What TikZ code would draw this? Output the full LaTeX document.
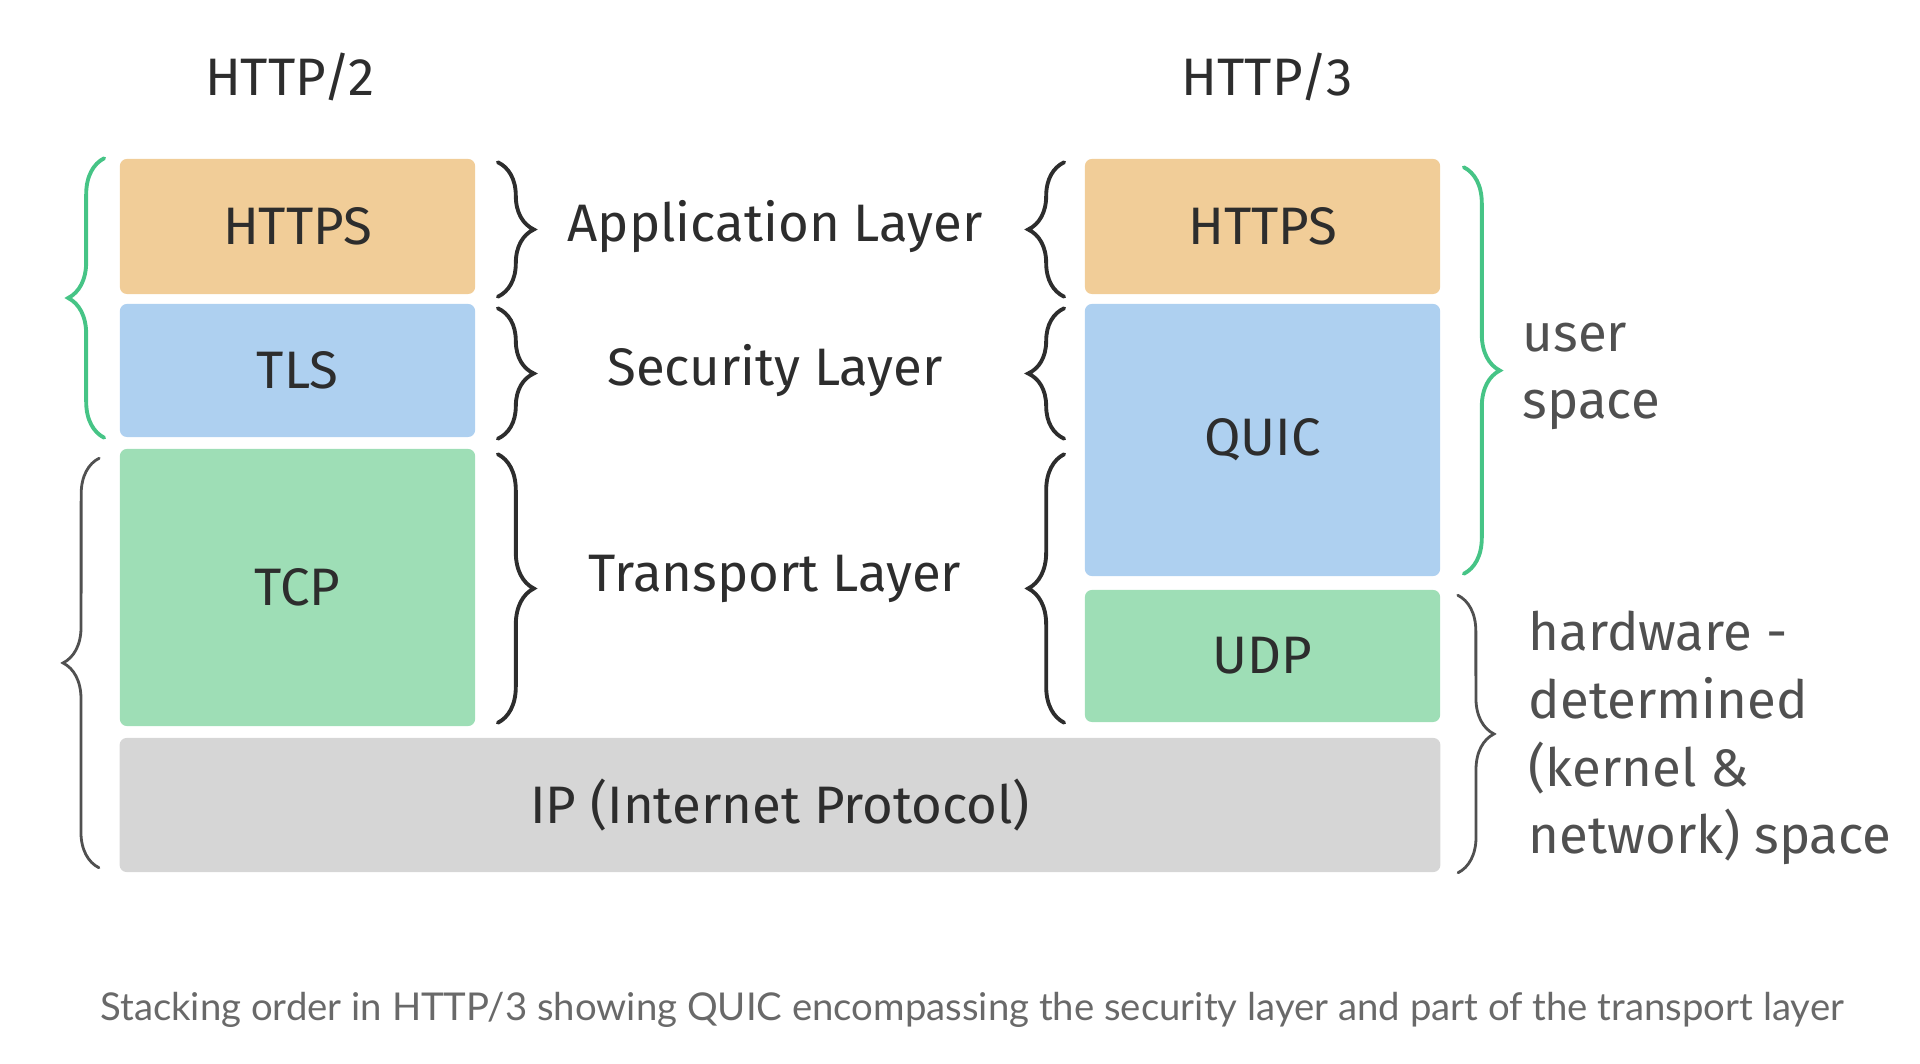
\documentclass[tikz,border=0pt]{standalone}
\usepackage{fontspec}
\setmainfont{Fira Sans}
\newfontfamily\capfont{Lato}
\usetikzlibrary{decorations.pathreplacing, calc}
\definecolor{httpsblock}{RGB}{241, 205, 152}
\definecolor{secblock}{RGB}{174, 208, 240}
\definecolor{tpblock}{RGB}{158, 222, 182}
\definecolor{ipblock}{RGB}{214, 214, 214}
\definecolor{userbrace}{RGB}{70, 196, 134}
\definecolor{inkdark}{RGB}{45, 45, 45}
\definecolor{inkgrey}{RGB}{80, 80, 80}
\definecolor{capgrey}{RGB}{105, 105, 105}

\begin{document}
\begin{tikzpicture}[x=0.01cm, y=-0.01cm,
		layer/.style={rounded corners=2pt, inner sep=0pt, minimum width=3.55cm,
			text=inkdark, font=\fontsize{15}{18}\selectfont},
		rbrace/.style={decorate, decoration={brace, amplitude=0.36cm},
			line width=1.1pt, line cap=round},
		lyr/.style={text=inkdark, font=\fontsize{15}{18}\selectfont}]
				\useasboundingbox (0,0) rectangle (1920,1064);

				% HTTP/2 stack
				\node[layer, fill=httpsblock, minimum height=1.35cm] (h2https) at (297.5, 226.5) {HTTPS};
				\node[layer, fill=secblock, minimum height=1.33cm]   (h2tls)   at (297.5, 370.5) {TLS};
				\node[layer, fill=tpblock, minimum height=2.77cm]    (h2tcp)   at (297.5, 587.5) {TCP};
				% HTTP/3 stack
				\node[layer, fill=httpsblock, minimum height=1.35cm] (h3https) at (1262.5, 226.5) {HTTPS};
				\node[layer, fill=secblock, minimum height=2.72cm]   (h3quic)  at (1262.5, 440) {QUIC};
				\node[layer, fill=tpblock, minimum height=1.32cm]    (h3udp)   at (1262.5, 656) {UDP};
				% shared IP
				\node[layer, fill=ipblock, minimum width=13.2cm, minimum height=1.34cm] (ip) at (780, 805) {IP (Internet Protocol)};

				% Column headers
				\node[lyr] (h2title) at (290, 77) {HTTP/2};
				\node[lyr] (h3title) at (1267, 77) {HTTP/3};

				% Layer names
				\node[lyr] (applbl) at (775, 227) {Application Layer};
				\node[lyr] (seclbl) at (775, 371) {Security Layer};
				\node[lyr] (tplbl)  at (775, 579) {Transport Layer};

				% Braces round the layer names
				\draw[rbrace, inkdark] ($(h2https.north east)+(22,4)$) -- ($(h2https.south east)+(22,2)$);
				\draw[rbrace, inkdark] ($(h2tls.north east)+(22,5)$) -- ($(h2tls.south east)+(22,1)$);
				\draw[rbrace, inkdark] ($(h2tcp.north east)+(22,6)$) -- ($(h2tcp.south east)+(22,-4)$);
				\draw[rbrace, inkdark] ($(h3https.south west)+(-20,2)$) -- ($(h3https.north west)+(-20,4)$);
				\draw[rbrace, inkdark] ($(h3quic.west |- h2tls.south)+(-20,1)$) -- ($(h3quic.west |- h2tls.north)+(-20,5)$);
				\draw[rbrace, inkdark] ($(h3udp.south west)+(-20,0)$) -- ($(h3quic.west |- h2tcp.north)+(-20,6)$);

				% User / kernel space braces
				\draw[rbrace, userbrace] ($(h2tls.south west)+(-15,0)$) -- ($(h2https.north west)+(-15,0)$);
				\draw[rbrace, inkgrey, line width=0.8pt] ($(ip.south west)+(-20,-5)$) -- ($(h2tcp.north west)+(-20,10)$);
				\draw[rbrace, userbrace] ($(h3https.north east)+(23,9)$) -- ($(h3quic.south east)+(23,-3)$);
				\draw[rbrace, inkgrey, line width=0.8pt] ($(h3udp.north east)+(17,6)$) -- ($(ip.south east)+(17,0)$);

				% Side notes
				\node[lyr, text=inkgrey, anchor=west, align=left, inner sep=0pt, font=\fontsize{15}{19}\selectfont] (usernote) at (1522, 376) {user\\space};
				\node[lyr, text=inkgrey, anchor=west, align=left, inner sep=0pt, font=\fontsize{15}{19.3}\selectfont] (kernnote) at (1528, 738) {hardware -\\determined\\(kernel \&\\network) space};

				% Caption
				\node[text=capgrey, font=\capfont\fontsize{10.9}{12}\selectfont] (caption) at (972, 1010) {Stacking order in HTTP/3 showing QUIC encompassing the security layer and part of the transport layer};

		\end{tikzpicture}
\end{document}
